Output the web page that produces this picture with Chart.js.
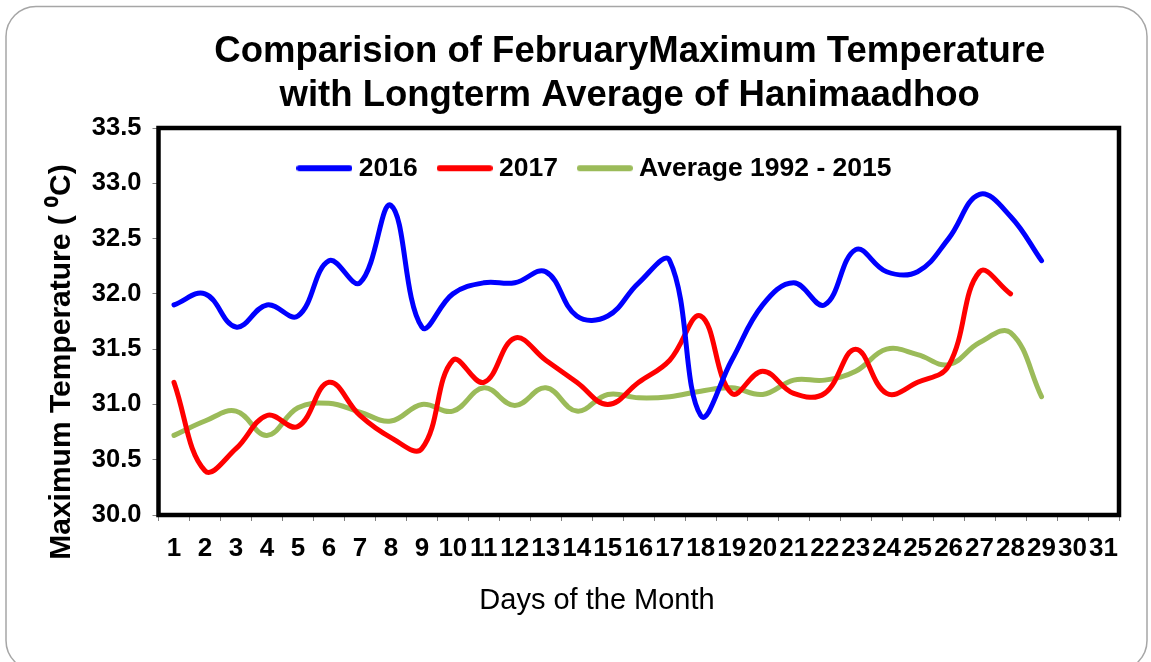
<!DOCTYPE html>
<html>
<head>
<meta charset="utf-8">
<script src="https://cdn.jsdelivr.net/npm/chart.js@4.4.1/dist/chart.umd.min.js"></script>
<style>
  html, body { margin: 0; padding: 0; background: #ffffff; }
  #wrap { width: 1151px; height: 662px; }
</style>
</head>
<body>
<div id="wrap"><canvas id="c" width="1151" height="662"></canvas></div>
<script>
// ---- data ----
const days = ['1','2','3','4','5','6','7','8','9','10','11','12','13','14','15','16','17','18','19','20','21','22','23','24','25','26','27','28','29','30','31'];
const max2016 = [31.9, 32.0, 31.7, 31.9, 31.8, 32.3, 32.1, 32.8, 31.7, 32.0, 32.1, 32.1, 32.2, 31.8, 31.8, 32.1, 32.3, 30.9, 31.4, 31.9, 32.1, 31.9, 32.4, 32.2, 32.2, 32.5, 32.9, 32.7, 32.3];
const max2017 = [31.2, 30.4, 30.6, 30.9, 30.8, 31.2, 30.9, 30.7, 30.6, 31.4, 31.2, 31.6, 31.4, 31.2, 31.0, 31.2, 31.4, 31.8, 31.1, 31.3, 31.1, 31.1, 31.5, 31.1, 31.2, 31.35, 32.2, 32.0];
const avg1992_2015 = [30.72, 30.85, 30.94, 30.72, 30.97, 31.01, 30.93, 30.85, 31.0, 30.94, 31.15, 30.99, 31.15, 30.94, 31.09, 31.06, 31.07, 31.12, 31.15, 31.09, 31.22, 31.22, 31.30, 31.5, 31.45, 31.36, 31.56, 31.65, 31.07];
const seriesNames = ['2016', '2017', 'Average 1992 - 2015'];
const seriesColors = ['#0000FF', '#FF0000', '#9BBB59'];
const yTicksMin = 30.0, yTicksMax = 33.5, yStep = 0.5;
const titleLines = ['Comparision of FebruaryMaximum Temperature', 'with Longterm Average of Hanimaadhoo'];
const xTitle = 'Days of the Month';
const yTitle = 'Maximum Temperature ( \u2070C)';

const FONT = "'Liberation Sans', Arial, Helvetica, sans-serif";

function legendLine(color) {
  const cv = document.createElement('canvas');
  cv.width = 56; cv.height = 8;
  const g = cv.getContext('2d');
  g.strokeStyle = color; g.lineWidth = 6; g.lineCap = 'round';
  g.beginPath(); g.moveTo(3, 4); g.lineTo(53, 4); g.stroke();
  return cv;
}

const decor = {
  id: 'decor',
  beforeLayout(chart) {
    const lg = chart.legend;
    if (lg && !lg._flat) {
      const f = lg.fit;
      lg.fit = function () { f.call(this); this._realH = this.height; this.height = 0; };
      lg._flat = true;
    }
  },
  afterLayout(chart) {
    const lg = chart.legend;
    if (lg) {
      const dx = 33, dy = 1;
      lg.left += dx; lg.right += dx;
      lg.top += dy;
      lg.height = lg._realH || 90;
      lg.bottom = lg.top + lg.height;
    }
    const tb = chart.titleBlock;
    if (tb) { tb.left -= 9; tb.right -= 9; }
  },
  beforeDraw(chart) {
    const ctx = chart.ctx;
    ctx.save();
    ctx.strokeStyle = '#a6a6a6';
    ctx.lineWidth = 1.5;
    ctx.beginPath();
    ctx.roundRect(6, 6.5, 1141, 664, 30);
    ctx.stroke();
    ctx.restore();
  },
  afterDatasetsDraw(chart) {
    const a = chart.chartArea, ctx = chart.ctx;
    ctx.save();
    ctx.strokeStyle = '#000';
    ctx.lineWidth = 4.5;
    ctx.strokeRect(a.left, a.top, a.right - a.left, a.bottom - a.top);
    ctx.restore();
  },
  afterDraw(chart) {
    const ctx = chart.ctx;
    ctx.save();
    ctx.fillStyle = '#000';
    ctx.textAlign = 'center';
    ctx.textBaseline = 'middle';
    ctx.font = 'normal 29px ' + FONT;
    ctx.fillText(xTitle, 597, 601);
    ctx.translate(62, 362);
    ctx.rotate(-Math.PI / 2);
    ctx.font = 'bold 30px ' + FONT;
    ctx.fillText(yTitle, 0, 0);
    ctx.restore();
  }
};

const mk = (label, data, color) => ({
  label, data, borderColor: color, backgroundColor: color,
  borderWidth: 5, pointRadius: 0, tension: 0.4, fill: false,
  borderCapStyle: 'round', borderJoinStyle: 'round'
});

new Chart(document.getElementById('c'), {
  type: 'line',
  data: {
    labels: days,
    datasets: [
      mk(seriesNames[0], max2016, seriesColors[0]),
      mk(seriesNames[1], max2017, seriesColors[1]),
      mk(seriesNames[2], avg1992_2015, seriesColors[2])
    ]
  },
  options: {
    responsive: false,
    animation: false,
    layout: { padding: { left: 10, right: 32, top: 6, bottom: 10 } },
    plugins: {
      tooltip: { enabled: false },
      title: {
        display: true,
        fullSize: false,
        text: titleLines,
        color: '#000',
        font: { family: FONT, size: 36.5, weight: 'bold', lineHeight: 44 / 36.5 },
        padding: { top: 24, bottom: 10 }
      },
      legend: {
        position: 'top',
        align: 'center',
        labels: {
          usePointStyle: true,
          pointStyleWidth: 42,
          padding: 26,
          color: '#000',
          font: { family: FONT, size: 26.5, weight: 'bold' },
          generateLabels(chart) {
            return chart.data.datasets.map((ds, i) => ({
              text: ds.label,
              pointStyle: legendLine(ds.borderColor),
              fillStyle: ds.borderColor,
              strokeStyle: ds.borderColor,
              lineWidth: 0,
              fontColor: '#000',
              hidden: false,
              datasetIndex: i
            }));
          }
        }
      }
    },
    scales: {
      x: {
        type: 'category',
        offset: true,
        afterFit(s) { s.height = 137; },
        border: { display: false },
        grid: { display: true, drawOnChartArea: false, drawTicks: true, tickLength: 6, color: '#808080', lineWidth: 1, offset: true },
        ticks: {
          autoSkip: false, maxRotation: 0, minRotation: 0, padding: 12,
          color: '#000',
          font: { family: FONT, size: 26, weight: 'bold' }
        },
        title: { display: false }
      },
      y: {
        min: yTicksMin,
        max: yTicksMax,
        afterFit(s) { s.width = 148.5; },
        border: { display: false },
        grid: { display: true, drawOnChartArea: false, drawTicks: true, tickLength: 6, color: '#808080', lineWidth: 1 },
        ticks: {
          stepSize: yStep,
          padding: 11,
          color: '#000',
          font: { family: FONT, size: 25.5, weight: 'bold' },
          callback: (v) => Number(v).toFixed(1)
        },
        title: { display: false }
      }
    }
  },
  plugins: [decor]
});
</script>
</body>
</html>
